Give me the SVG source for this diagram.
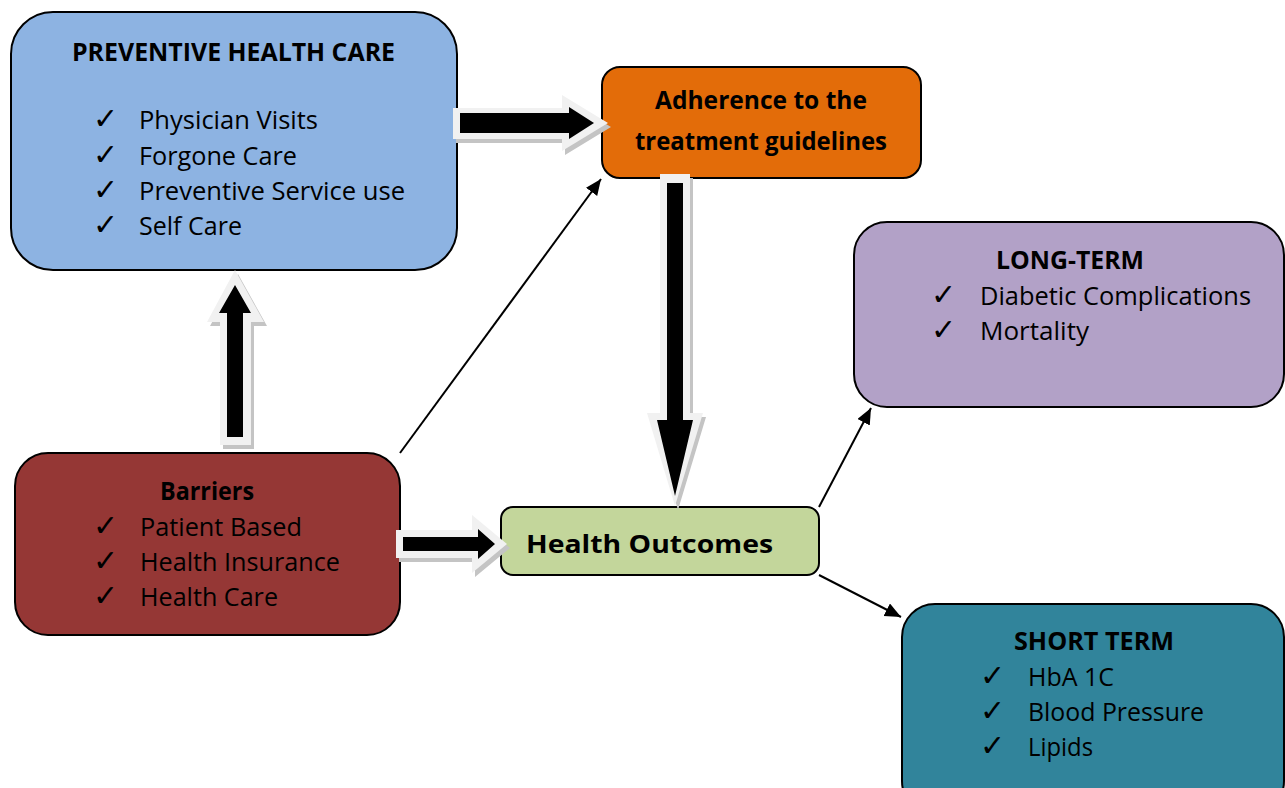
<svg xmlns="http://www.w3.org/2000/svg" width="1285" height="788" viewBox="0 0 1285 788">
<defs>
<style>
.box{stroke:#000;stroke-width:2}
.t{font-family:"Open Sans","Noto Sans","Liberation Sans",sans-serif;font-size:25px;fill:#000}
.b{font-family:"Open Sans","Noto Sans","Liberation Sans",sans-serif;font-size:25px;font-weight:bold;fill:#000}
.ck{font-family:"DejaVu Sans",sans-serif;font-size:30px;fill:#000}
.sh{fill:#c4c4c4}
.ol{fill:#f1f1f1}
.in{fill:#000}
.ln{stroke:#000;stroke-width:2;fill:none}
</style>
<marker id="ah" markerUnits="userSpaceOnUse" markerWidth="18" markerHeight="16" refX="16" refY="7" orient="auto">
<path d="M0,0 L16,7 L0,14 z" fill="#000"/>
</marker>
</defs>
<rect width="1285" height="788" fill="#fff"/>

<g id="preventive">
<rect class="box" x="11" y="12" width="446" height="258" rx="42" fill="#8db3e2"/>
<text class="b" x="72" y="61" textLength="323" lengthAdjust="spacingAndGlyphs">PREVENTIVE HEALTH CARE</text>
<text class="ck" x="93" y="129">✓</text>
<text class="ck" x="93" y="165">✓</text>
<text class="ck" x="93" y="200">✓</text>
<text class="ck" x="93" y="235">✓</text>
<text class="t" x="139" y="129" textLength="179" lengthAdjust="spacingAndGlyphs">Physician Visits</text>
<text class="t" x="139" y="165" textLength="158" lengthAdjust="spacingAndGlyphs">Forgone Care</text>
<text class="t" x="139" y="200" textLength="266" lengthAdjust="spacingAndGlyphs">Preventive Service use</text>
<text class="t" x="139" y="235" textLength="103" lengthAdjust="spacingAndGlyphs">Self Care</text>
</g>

<g id="adherence">
<rect class="box" x="602" y="67" width="319" height="111" rx="18" fill="#e36c09"/>
<text class="b" x="655" y="109" font-size="24" textLength="212" lengthAdjust="spacingAndGlyphs">Adherence to the</text>
<text class="b" x="635" y="150" font-size="24" textLength="252" lengthAdjust="spacingAndGlyphs">treatment guidelines</text>
</g>

<g id="longterm">
<rect class="box" x="854" y="222" width="430" height="185" rx="33" fill="#b2a1c7"/>
<text class="b" x="996" y="269" textLength="148" lengthAdjust="spacingAndGlyphs">LONG-TERM</text>
<text class="ck" x="931" y="305">✓</text>
<text class="ck" x="931" y="340">✓</text>
<text class="t" x="980" y="305" textLength="271" lengthAdjust="spacingAndGlyphs">Diabetic Complications</text>
<text class="t" x="980" y="340" textLength="109" lengthAdjust="spacingAndGlyphs">Mortality</text>
</g>

<g id="barriers">
<rect class="box" x="15" y="453" width="385" height="182" rx="33" fill="#953735"/>
<text class="b" x="160" y="500" font-size="24" textLength="94" lengthAdjust="spacingAndGlyphs">Barriers</text>
<text class="ck" x="93" y="536">✓</text>
<text class="ck" x="93" y="571">✓</text>
<text class="ck" x="93" y="606">✓</text>
<text class="t" x="140" y="536" textLength="162" lengthAdjust="spacingAndGlyphs">Patient Based</text>
<text class="t" x="140" y="571" textLength="200" lengthAdjust="spacingAndGlyphs">Health Insurance</text>
<text class="t" x="140" y="606" textLength="138" lengthAdjust="spacingAndGlyphs">Health Care</text>
</g>

<g id="outcomes">
<rect class="box" x="501" y="507" width="318" height="68" rx="12" fill="#c3d69b"/>
<text class="b" x="526" y="553" font-size="29" textLength="247" lengthAdjust="spacingAndGlyphs">Health Outcomes</text>
</g>

<g id="shortterm">
<rect class="box" x="902" y="604" width="382" height="210" rx="33" fill="#31849b"/>
<text class="b" x="1014" y="650" textLength="160" lengthAdjust="spacingAndGlyphs">SHORT TERM</text>
<text class="ck" x="980" y="686">✓</text>
<text class="ck" x="980" y="721">✓</text>
<text class="ck" x="980" y="756">✓</text>
<text class="t" x="1028" y="686" textLength="86" lengthAdjust="spacingAndGlyphs">HbA 1C</text>
<text class="t" x="1028" y="721" textLength="176" lengthAdjust="spacingAndGlyphs">Blood Pressure</text>
<text class="t" x="1028" y="756" textLength="65" lengthAdjust="spacingAndGlyphs">Lipids</text>
</g>

<g id="connectors">
<g id="block-prev-adh">
<polygon class="sh" transform="translate(3,4)" points="453,108 562,108 562,95 608,123 562,151 562,139 453,139"/>
<polygon class="ol" points="453,108 562,108 562,95 608,123 562,151 562,139 453,139"/>
<polygon class="in" points="460,113 569,113 569,107 594,123 569,139 569,133 460,133"/>
</g>
<g id="block-bar-prev">
<polygon class="sh" transform="translate(3,4)" points="220,445 220,322 207,322 235,270 264,322 251,322 251,445"/>
<polygon class="ol" points="220,445 220,322 207,322 235,270 264,322 251,322 251,445"/>
<polygon class="in" points="227,437 227,313 219,313 235,285 251,313 243,313 243,437"/>
</g>
<g id="block-adh-out">
<polygon class="sh" transform="translate(3,4)" points="660,174 690,174 690,413 703,413 675,506 647,413 660,413"/>
<polygon class="ol" points="660,174 690,174 690,413 703,413 675,506 647,413 660,413"/>
<polygon class="in" points="667,183 683,183 683,420 693,420 675,496 657,420 667,420"/>
</g>
<g id="block-bar-out">
<polygon class="sh" transform="translate(3,4)" points="396,530 472,530 472,515 507,544 472,573 472,558 396,558"/>
<polygon class="ol" points="396,530 472,530 472,515 507,544 472,573 472,558 396,558"/>
<polygon class="in" points="403,537 478,537 478,529 495,544 478,559 478,551 403,551"/>
</g>
<line class="ln" x1="400" y1="453" x2="601" y2="179" marker-end="url(#ah)"/>
<line class="ln" x1="819" y1="507" x2="871" y2="408" marker-end="url(#ah)"/>
<line class="ln" x1="819" y1="575" x2="901" y2="617" marker-end="url(#ah)"/>
</g>
</svg>
